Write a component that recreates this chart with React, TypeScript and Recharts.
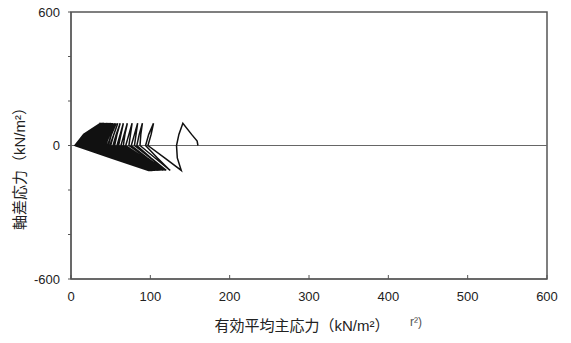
import React from 'react';
import { LineChart, Line, XAxis, YAxis, ReferenceLine, ReferenceArea, Label } from 'recharts';

// x: effective mean principal stress p' (kN/m2), y: deviator stress q (kN/m2)
const xTicks = [0, 100, 200, 300, 400, 500, 600];
const yTicks = [-600, -400, -200, 0, 200, 400, 600];
const yLabelled = [-600, 0, 600];

// opening of the record
const startP = [160, 159];
const startQ = [0, 20];

// deviator stress level of each point inside one loading cycle
const cycleQ = [50, 100, 50, 0, -56, -112, -56, 0];

// p' of each point of each cycle (rows follow cycleQ)
const cycleP = [
  [152, 141, 136, 133, 134, 139, 118, 97],
  [101, 104, 98, 94, 109, 125, 106, 87],
  [88, 90, 86, 83, 101, 120, 100, 80],
  [82, 84, 80, 76, 96, 118, 95, 73],
  [75, 77, 73, 69, 92, 116, 91, 66],
  [68, 71, 67, 63, 88, 114, 87, 60],
  [63, 66, 62, 58, 85, 112, 84, 55],
  [58, 62, 57, 53, 82, 111, 81, 50],
  [54, 59, 54, 49, 79, 110, 78, 47],
  [51, 57, 51, 46, 77, 109, 76, 44],
  [48, 55, 49, 43, 75, 109, 74, 41],
  [46, 53, 47, 41, 74, 108, 73, 39],
  [44, 52, 45, 39, 72, 108, 71, 37],
  [42, 51, 43, 36, 71, 107, 70, 35],
  [40, 50, 41, 34, 69, 107, 68, 33],
  [38, 49, 39, 32, 68, 106, 67, 31],
  [36, 48, 38, 30, 67, 106, 66, 29],
  [34, 47, 36, 28, 65, 105, 64, 27],
  [32, 46, 34, 26, 64, 105, 63, 25],
  [31, 45, 33, 24, 63, 104, 62, 23],
  [29, 44, 31, 22, 62, 104, 61, 21],
  [27, 43, 30, 20, 61, 103, 60, 19],
  [26, 42, 28, 19, 60, 103, 59, 18],
  [24, 42, 27, 17, 59, 102, 58, 16],
  [23, 41, 26, 16, 58, 102, 57, 15],
  [22, 40, 25, 14, 57, 101, 56, 13],
  [21, 40, 24, 13, 56, 101, 55, 12],
  [20, 39, 23, 12, 55, 100, 55, 11],
  [19, 39, 22, 10, 55, 100, 54, 9],
  [18, 38, 21, 9, 54, 99, 53, 8],
  [17, 38, 20, 8, 53, 99, 53, 7],
  [17, 37, 19, 7, 52, 99, 52, 6],
  [16, 37, 19, 6, 52, 98, 51, 5],
  [16, 37, 18, 5, 51, 98, 51, 5],
];

const data = [
  ...startP.map((p, i) => ({ p, q: startQ[i] })),
  ...cycleP.flatMap((row) => row.map((p, i) => ({ p, q: cycleQ[i] }))),
];

const FONT = "'Liberation Sans', 'Noto Sans CJK JP', sans-serif";

export default function App() {
  return (
    <div style={{ position: 'absolute', left: 0, top: 0, width: 571, height: 343, background: '#fff' }}>
      <LineChart
        width={571}
        height={343}
        data={data}
        margin={{ top: 12, right: 24, left: 0, bottom: 0 }}
        style={{ fontFamily: FONT }}
      >
        <XAxis
          type="number"
          dataKey="p"
          domain={[0, 600]}
          ticks={xTicks}
          allowDataOverflow
          height={64}
          tickSize={-4}
          tickMargin={17}
          stroke="#555"
          tick={{ fontSize: 13, fill: '#222', fontFamily: FONT }}
        >
          <Label
            value="有効平均主応力（kN/m²）"
            position="insideBottom"
            offset={12}
            dx={-7}
            style={{ fontSize: 15, fill: '#222', fontFamily: FONT }}
          />
          <Label
            content={() => (
              <text x={410} y={326} fontSize={12} fill="#555" fontFamily={FONT}>
                r²)
              </text>
            )}
          />
        </XAxis>
        <YAxis
          type="number"
          dataKey="q"
          domain={[-600, 600]}
          ticks={yTicks}
          allowDataOverflow
          width={71}
          tickSize={3}
          tickMargin={8}
          stroke="#555"
          tickFormatter={(v: number) => (yLabelled.includes(v) ? String(v) : '')}
          tick={{ fontSize: 13, fill: '#222', fontFamily: FONT }}
        >
          <Label
            content={() => (
              <text
                x={19}
                y={165}
                transform="rotate(-90 19 165)"
                textAnchor="middle"
                dominantBaseline="central"
                fontSize={15}
                fill="#222"
                fontFamily={FONT}
              >
                軸差応力（kN/m²）
              </text>
            )}
          />
        </YAxis>
        <ReferenceArea x1={0} x2={600} y1={-600} y2={600} fill="none" stroke="#555" strokeWidth={1.5} ifOverflow="visible" />
        <ReferenceLine y={0} stroke="#666" strokeWidth={1} />
        <Line
          type="linear"
          dataKey="q"
          stroke="#111"
          strokeWidth={1.5}
          dot={false}
          isAnimationActive={false}
        />
      </LineChart>
    </div>
  );
}
